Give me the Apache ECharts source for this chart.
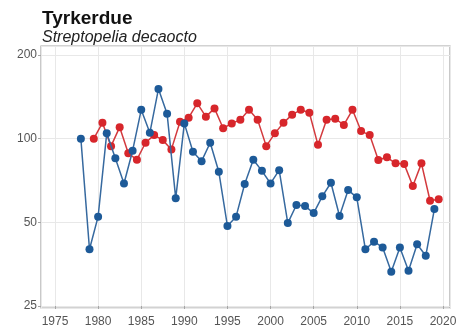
<!DOCTYPE html>
<html>
<head>
<meta charset="utf-8">
<script src="https://cdn.jsdelivr.net/npm/echarts@6/dist/echarts.min.js"></script>
<style>
html,body{margin:0;padding:0;background:#fff;}
#c{width:461px;height:334px;}
</style>
</head>
<body>
<div id="c"></div>
<script>
// ---- data ----
var blueYears = [1978,1979,1980,1981,1982,1983,1984,1985,1986,1987,1988,1989,1990,1991,1992,1993,1994,1995,1996,1997,1998,1999,2000,2001,2002,2003,2004,2005,2006,2007,2008,2009,2010,2011,2012,2013,2014,2015,2016,2017,2018,2019];
var blueValues = [100,40,52.4,104.5,85,69,90.5,127,105,151,123,61,113.5,89.7,83,96.7,76,48.5,52.4,68.7,84,76.6,69,77,49.7,57.7,57.2,54,62,69.4,52.7,65.3,61.5,40,42.6,40.6,33.2,40.6,33.5,41.7,37.9,55.8];
var redYears = [1979.5,1980.5,1981.5,1982.5,1983.5,1984.5,1985.5,1986.5,1987.5,1988.5,1989.5,1990.5,1991.5,1992.5,1993.5,1994.5,1995.5,1996.5,1997.5,1998.5,1999.5,2000.5,2001.5,2002.5,2003.5,2004.5,2005.5,2006.5,2007.5,2008.5,2009.5,2010.5,2011.5,2012.5,2013.5,2014.5,2015.5,2016.5,2017.5,2018.5,2019.5];
var redValues = [100,114,94,110,88.6,84,96.7,103,98.8,91.5,115,119,134,120,128.5,109,113.5,117,127,117,94,104.5,114,122,127,124,95,117,118,112,127,106.5,103,83.8,85.7,81.5,81,67.6,81.5,59.8,60.5];
var yTickLabels = [25, 50, 100, 200];
var xTickLabels = [1975,1980,1985,1990,1995,2000,2005,2010,2015,2020];
var titleText = 'Tyrkerdue';
var subtitleText = 'Streptopelia decaocto';

// log2 scale relative to the lowest tick label
var base = yTickLabels[0];
function tr(v){ return Math.log(v/base)/Math.LN2; }
function pairs(xs, vs){ return xs.map(function(x,i){ return [x, tr(vs[i])]; }); }

var FONT = 'Liberation Sans, Arial, Helvetica, sans-serif';
var chart = echarts.init(document.getElementById('c'), null, {renderer:'canvas'});
chart.setOption({
  animation: false,
  backgroundColor: '#ffffff',
  title: {
    text: titleText,
    subtext: subtitleText,
    left: 37,
    top: 4,
    itemGap: 2,
    textStyle: {fontFamily: FONT, fontSize: 19, fontWeight: 'bold', color: '#111111'},
    subtextStyle: {fontFamily: FONT, fontSize: 16, fontStyle: 'italic', color: '#222222'}
  },
  grid: [
    {left: 41, right: 11, top: 46, bottom: 26, show: true, borderColor: '#a6a6a6', borderWidth: 1.2, backgroundColor: 'transparent', containLabel: false},
    {left: 55, right: 18, top: 55, bottom: 28, containLabel: false}
  ],
  xAxis: [
    {type: 'value', gridIndex: 0, min: 1973.4, max: 2020.8, splitNumber: 9,
     axisLine: {show: false}, axisTick: {show: false}, axisLabel: {show: false},
     splitLine: {show: true, lineStyle: {color: '#e8e8e8', width: 1}}},
    {type: 'value', gridIndex: 1, min: xTickLabels[0], max: xTickLabels[xTickLabels.length-1], interval: 5, offset: 2,
     axisLine: {show: false}, splitLine: {show: false},
     axisTick: {show: true, length: 3, lineStyle: {color: '#a6a6a6'}},
     axisLabel: {show: true, margin: 8, fontFamily: FONT, fontSize: 12, color: '#555555',
       formatter: function(v){ return String(Math.round(v)); }}}
  ],
  yAxis: [
    {type: 'value', gridIndex: 0, min: -0.024, max: 3.1075, splitNumber: 3,
     axisLine: {show: false}, axisTick: {show: false}, axisLabel: {show: false},
     splitLine: {show: true, lineStyle: {color: '#e8e8e8', width: 1}}},
    {type: 'value', gridIndex: 1, min: 0, max: yTickLabels.length - 1, interval: 1, offset: 14,
     axisLine: {show: false}, splitLine: {show: false},
     axisTick: {show: true, length: 3, lineStyle: {color: '#a6a6a6'}},
     axisLabel: {show: true, margin: 4, fontFamily: FONT, fontSize: 12, color: '#555555',
       formatter: function(v){ var i = Math.round(v); return yTickLabels[i] !== undefined ? String(yTickLabels[i]) : ''; }}}
  ],
  series: [
    {type: 'line', xAxisIndex: 1, yAxisIndex: 1, data: pairs(redYears, redValues),
     symbol: 'circle', symbolSize: 8, showSymbol: true,
     lineStyle: {color: '#d33a3e', width: 1.5},
     itemStyle: {color: '#d7262b'}, z: 2},
    {type: 'line', xAxisIndex: 1, yAxisIndex: 1, data: pairs(blueYears, blueValues),
     symbol: 'circle', symbolSize: 8, showSymbol: true,
     lineStyle: {color: '#36699f', width: 1.5},
     itemStyle: {color: '#1d5a98'}, z: 3}
  ]
});
</script>
</body>
</html>
